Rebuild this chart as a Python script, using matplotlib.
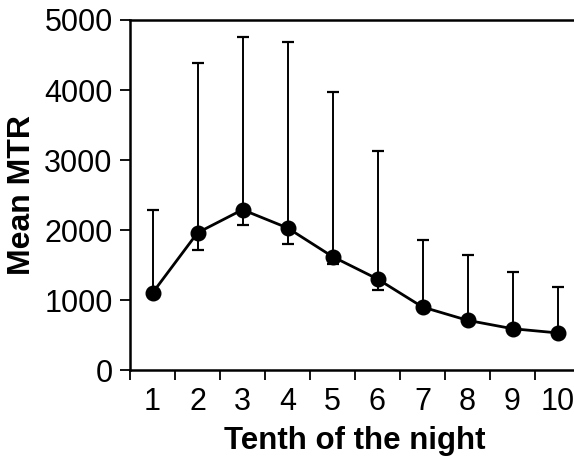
import numpy as np
import matplotlib.pyplot as plt

plt.rcParams['font.family'] = ['Liberation Sans', 'DejaVu Sans']

# tenth of the night vs mean MTR, error bars
tenths = [1, 2, 3, 4, 5, 6, 7, 8, 9, 10]
mean_mtr = [1100, 1960, 2290, 2030, 1620, 1300, 900, 710, 590, 530]
upper = [2290, 4390, 4760, 4680, 3970, 3130, 1860, 1650, 1400, 1190]
lower = [1060, 1720, 2070, 1800, 1510, 1150, 860, 680, 540, 510]

mean_arr = np.array(mean_mtr)
yerr = [mean_arr - np.array(lower), np.array(upper) - mean_arr]

fig = plt.figure(figsize=(5.74, 4.58), dpi=100)
# right edge of the axes falls just outside the picture, as in the original
ax = fig.add_axes([130 / 574, 88 / 458, 450 / 574, 350 / 458])

ax.errorbar(tenths, mean_mtr, yerr=yerr, fmt="none", ecolor="black",
            elinewidth=1.4, capsize=4.5, capthick=1.6)
ax.plot(tenths, mean_mtr, color="black", linewidth=2, marker="o",
        markersize=10.5)

ax.set_xlim(0.5, 10.5)
ax.set_ylim(0, 5000)
ax.set_yticks([0, 1000, 2000, 3000, 4000, 5000])
ax.set_xticks(np.arange(0.5, 11, 1.0))
ax.set_xticklabels([])
ax.set_xticks(tenths, minor=True)
ax.set_xticklabels([str(t) for t in tenths], minor=True)
ax.tick_params(axis="x", which="major", direction="out", length=7.5, width=1.3)
ax.tick_params(axis="x", which="minor", length=0, labelsize=22, pad=12)
ax.tick_params(axis="y", direction="out", length=7.5, width=1.3, labelsize=22,
               pad=5)

for side in ["left", "bottom", "top"]:
    ax.spines[side].set_linewidth(1.8)
ax.spines["right"].set_visible(False)

ax.set_xlabel("Tenth of the night", fontsize=22.5, fontweight="bold",
              labelpad=7)
ax.set_ylabel("Mean MTR", fontsize=23, fontweight="bold", labelpad=5)

fig.savefig("out.png", dpi=100)
